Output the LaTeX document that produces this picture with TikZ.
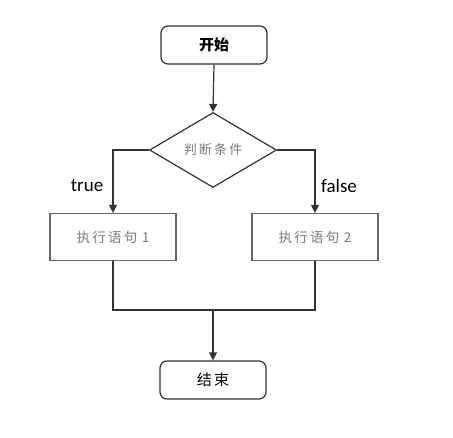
\documentclass[tikz,border=0pt]{standalone}
\usepackage{fontspec}
\newfontfamily\cjk{Noto Sans CJK SC}
\newfontfamily\lat{Carlito}
\usetikzlibrary{arrows.meta,shapes.geometric}
\definecolor{linec}{HTML}{333333}
\definecolor{graytext}{HTML}{7A7A7A}
\tikzset{
  x=1pt,y=-1pt,
  conn/.style={draw=linec,line width=1.2pt},
  arr/.style={conn,-{Triangle[length=8pt,width=8pt]}},
  term/.style={draw=linec,line width=1.2pt,rounded corners=7pt,minimum width=106pt,minimum height=38pt,inner sep=0pt},
  procbox/.style={draw=linec!75,line width=1.2pt,minimum width=126pt,minimum height=47pt,inner sep=0pt,font=\cjk\fontsize{13.5}{15}\selectfont,text=graytext},
  decision/.style={draw=linec,line width=1.2pt,diamond,aspect=1.7,minimum width=127pt,minimum height=74pt,inner sep=0pt,font=\cjk\fontsize{13}{15}\selectfont,text=graytext},
  lbl/.style={font=\lat\fontsize{19}{21}\selectfont,text=black}
}
\begin{document}
\begin{tikzpicture}
\useasboundingbox (0,0) rectangle (453,437);
\node[term,font=\cjk\bfseries\fontsize{15}{17}\selectfont] (start) at (214,45) {开始};
\node[decision,minimum width=127pt,minimum height=75pt] (cond) at (213,150) {判\,断\,条\,件};
\node[procbox] (p1) at (113,237) {执\,行\,语\,句\,\,1};
\node[procbox] (p2) at (315,237) {执\,行\,语\,句\,\,2};
\node[term,font=\cjk\fontsize{15}{17}\selectfont] (end) at (213,380) {结\,束};
\coordinate (l1) at (113,150);
\coordinate (r1) at (315,150);
\coordinate (b1) at (113,310);
\coordinate (b2) at (315,310);
\coordinate (m) at (213,310);
\draw[arr] (start.south) -- (cond.north);
\draw[arr] (cond.west) -- (l1) -- (p1.north);
\draw[arr] (cond.east) -- (r1) -- (p2.north);
\draw[conn] (p1.south) -- (b1) -- (b2) -- (p2.south);
\draw[arr] (m) -- (end.north);
\node[lbl] (t) at (87,186) {true};
\node[lbl] (f) at (339,186) {false};
\end{tikzpicture}
\end{document}
